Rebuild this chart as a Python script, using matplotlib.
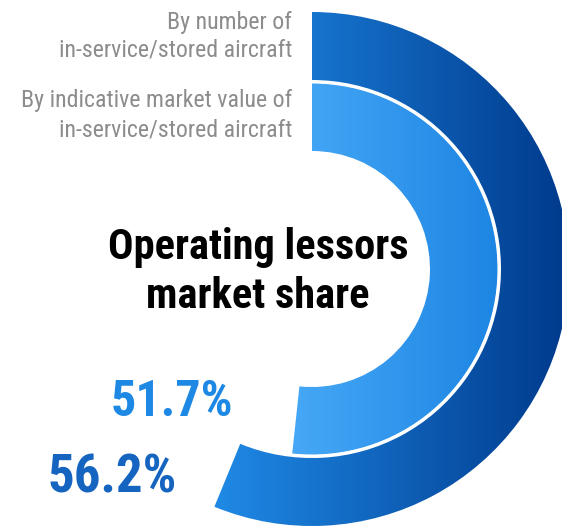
import numpy as np
import matplotlib
matplotlib.use("Agg")
import matplotlib.pyplot as plt
from matplotlib.patches import Wedge
from matplotlib.colors import LinearSegmentedColormap

# shares of the market, outer ring first
shares = [56.2, 51.7]
share_labels = ["56.2%", "51.7%"]
ring_labels = [["By number of", "in-service/stored aircraft"],
               ["By indicative market value of", "in-service/stored aircraft"]]
title = "Operating lessors\nmarket share"

narrow = ["Roboto Condensed", "Liberation Sans Narrow", "Liberation Sans"]

W, H = 562, 527
fig = plt.figure(figsize=(W / 100, H / 100), dpi=100)
ax = fig.add_axes([0, 0, 1, 1])
ax.set_xlim(0, W)
ax.set_ylim(0, H)
ax.set_aspect("equal")
ax.axis("off")

cx, cy = 312, H - 269
rings = [(257, 68), (186, 68)]
grads = [("#1f8ae6", "#003a8c"), ("#46a8f6", "#1d85e3")]
num_colors = ["#1565c0", "#1e88e5"]

for share, (r, w), (c0, c1) in zip(shares, rings, grads):
    a = 360 * share / 100
    wedge = Wedge((cx, cy), r, 90 - a, 90, width=w, facecolor="none",
                  edgecolor="none")
    ax.add_patch(wedge)
    # horizontal gradient clipped to the ring
    x_left = cx - r * np.sin(np.radians(a - 180))
    cmap = LinearSegmentedColormap.from_list("g", [c0, c1])
    grad = np.linspace(0, 1, 256).reshape(1, -1)
    im = ax.imshow(grad, cmap=cmap, aspect="auto",
                   extent=[x_left, cx + r, cy - r, cy + r], zorder=1)
    im.set_clip_path(wedge)

# thin white gap between the rings
ax.add_patch(Wedge((cx, cy), 188, 90 - 360 * shares[1] / 100, 90, width=2.5,
                   facecolor="white", edgecolor="none", zorder=2))
ax.set_xlim(0, W)
ax.set_ylim(0, H)

label_y = [(22, 50), (101, 130)]
for lines, ys in zip(ring_labels, label_y):
    for line, y in zip(lines, ys):
        ax.text(292, H - y, line, ha="right", va="center",
                fontsize=17.2, color="#8c8c8c", family=narrow)

ax.text(258, H - 272, title, ha="center", va="center", multialignment="center",
        fontsize=30.5, fontweight="bold", color="black", family=narrow,
        linespacing=1.28)

ax.text(172, H - 403, share_labels[1], ha="center", va="center",
        fontsize=36, fontweight="heavy", color=num_colors[1], family=narrow)
ax.text(112, H - 478, share_labels[0], ha="center", va="center",
        fontsize=38, fontweight="heavy", color=num_colors[0], family=narrow)

fig.savefig("out.png", dpi=100)
